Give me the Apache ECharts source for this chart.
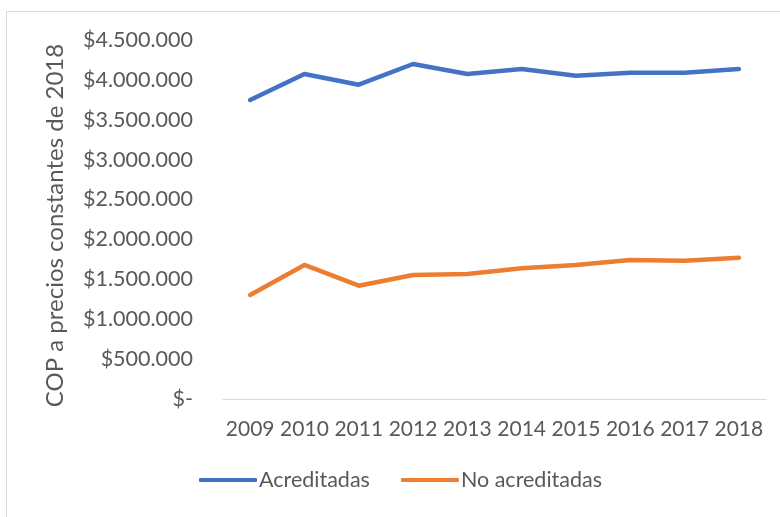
<!DOCTYPE html>
<html>
<head>
<meta charset="utf-8">
<script src="https://cdn.jsdelivr.net/npm/echarts@6/dist/echarts.min.js"></script>
<style>
    html, body {margin: 0; padding: 0; background: #fff;}
    #chart {width: 780px; height: 517px;}
</style>
</head>
<body>
<div id="chart"></div>
<script>
var years = ['2009', '2010', '2011', '2012', '2013', '2014', '2015', '2016', '2017', '2018'];
var acreditadas = [3748000, 4074000, 3940000, 4199000, 4074000, 4136000, 4053000, 4090000, 4090000, 4136000];
var noAcreditadas = [1304000, 1680000, 1420000, 1554000, 1567000, 1638000, 1680000, 1742000, 1734000, 1771000];
var seriesNames = ['Acreditadas', 'No acreditadas'];

// formato de pesos con punto de miles
function pesos(v) {
    if (v == 0) return '$-';
    return '$' + String(v).replace(/\B(?=(\d{3})+(?!\d))/g, '.');
}

var chart = echarts.init(document.getElementById('chart'));
var font = 'Lato, "Open Sans", sans-serif';

var option = {
    backgroundColor: '#fff',
    animation: false,
    textStyle: {fontFamily: font},
    graphic: [{
        type: 'rect',
        shape: {x: 6.5, y: 11.5, width: 800, height: 600},
        style: {fill: 'none', stroke: '#d9d9d9', lineWidth: 1}
    }],
    grid: {left: 223, right: 14, top: 40, bottom: 118},
    legend: {
        bottom: 21,
        left: 194,
        itemWidth: 58,
        itemHeight: 4,
        itemGap: 31,
        icon: 'roundRect',
        textStyle: {color: '#595959', fontSize: 21.5, fontFamily: font, padding: [0, 0, 0, -3]},
        data: seriesNames
    },
    xAxis: {
        type: 'category',
        data: years,
        boundaryGap: true,
        axisLine: {lineStyle: {color: '#d9d9d9', width: 1}},
        axisTick: {show: false},
        axisLabel: {color: '#595959', fontSize: 21, margin: 20, interval: 0, fontFamily: font}
    },
    yAxis: {
        type: 'value',
        min: 0,
        max: 4500000,
        interval: 500000,
        name: 'COP a precios constantes de 2018',
        nameLocation: 'middle',
        nameGap: 156,
        nameTextStyle: {color: '#595959', fontSize: 24, fontFamily: font, padding: [0, 0, 0, -12]},
        splitLine: {show: false},
        axisLine: {show: false},
        axisTick: {show: false},
        axisLabel: {color: '#595959', fontSize: 21.5, margin: 30, fontFamily: font, formatter: pesos}
    },
    series: [{
        name: seriesNames[0],
        type: 'line',
        data: acreditadas,
        symbol: 'none',
        color: '#4472C4',
        lineStyle: {width: 4.5, cap: 'round', join: 'round'}
    }, {
        name: seriesNames[1],
        type: 'line',
        data: noAcreditadas,
        symbol: 'none',
        color: '#ED7D31',
        lineStyle: {width: 4.5, cap: 'round', join: 'round'}
    }]
};
chart.setOption(option);
</script>
</body>
</html>
